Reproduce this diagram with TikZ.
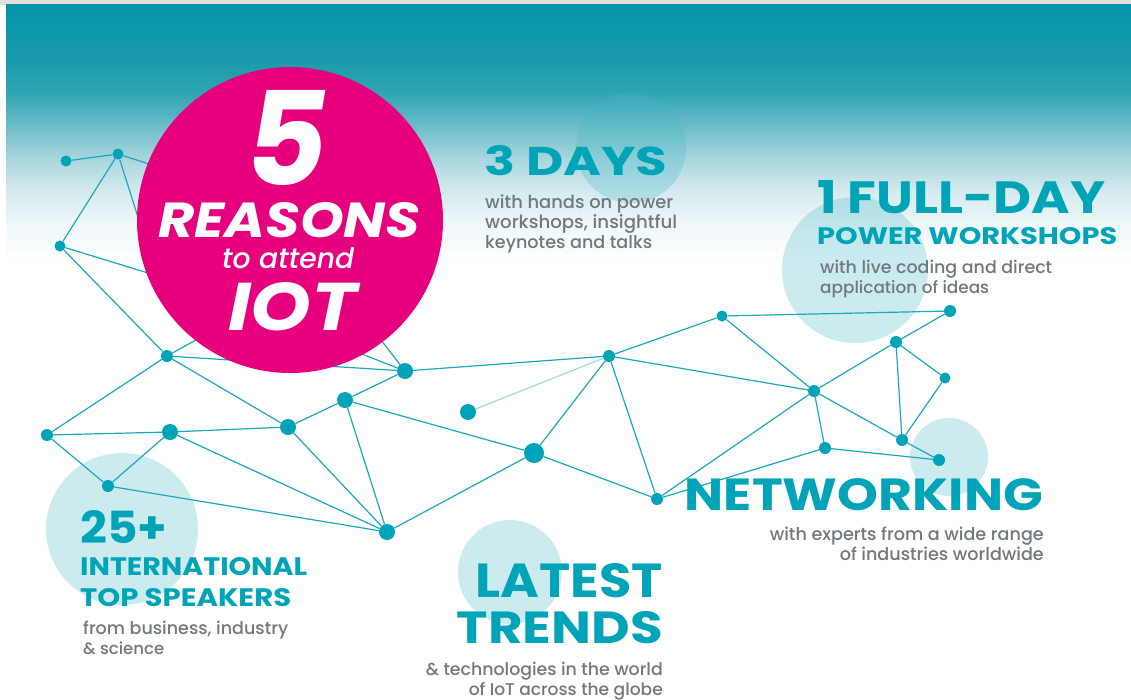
\documentclass[tikz,border=0pt]{standalone}
\usepackage{fontspec}
\usepackage{graphicx}
\setmainfont{Poppins}
\newfontfamily\popmed{Poppins Medium}
\definecolor{tealtxt}{RGB}{0,164,185}
\definecolor{graytxt}{RGB}{112,121,125}
\definecolor{edgecol}{RGB}{28,168,187}
\definecolor{dotcol}{RGB}{0,163,184}
\definecolor{pinkc}{RGB}{230,0,126}
\definecolor{s0}{RGB}{6,148,169}
\definecolor{s1}{RGB}{25,155,172}
\definecolor{s2}{RGB}{50,166,181}
\definecolor{s3}{RGB}{110,190,200}
\definecolor{s4}{RGB}{170,215,222}
\definecolor{s5}{RGB}{215,235,238}
\definecolor{s6}{RGB}{240,248,250}
\definecolor{lightc}{RGB}{70,185,200}
\newcommand\fitwh[3]{\resizebox{#1pt}{#2pt}{#3}}
\newcommand\fitw[2]{\resizebox{#1pt}{!}{#2}}
\begin{document}
\begin{tikzpicture}[x=1pt,y=-1pt,
  dot/.style={circle,fill=dotcol,inner sep=0pt,minimum size=#1},
  dot/.default=12pt,
  edge/.style={draw=edgecol,line width=1.2pt},
  faint/.style={draw=edgecol!45,line width=1.1pt},
  lightcirc/.style={circle,fill=lightc,fill opacity=0.28,inner sep=0pt,minimum size=#1},
  head/.style={inner sep=0pt,text=tealtxt,font=\bfseries},
  body/.style={inner sep=0pt,text=graytxt,font=\popmed},
  badgetxt/.style={inner sep=0pt,text=white}]
\useasboundingbox (0,0) rectangle (1131,699);
\fill[white] (0,0) rectangle (1131,699);
\fill[black!12] (0,0) rectangle (1131,5);
% gradient sky
\foreach \ta/\tb/\ya/\yb in {s0/s1/5/60,s1/s2/60/95,s2/s3/95/127,s3/s4/127/160,
  s4/s5/160/193,s5/s6/193/227,s6/white/227/262}
  \shade[top color=\ta,bottom color=\tb] (6,\ya-0.3) rectangle (1131,\yb+0.3);
% light circles
\node[lightcirc=110pt] (c3) at (631,148) {};
\node[lightcirc=146pt] (c1) at (855,270) {};
\node[lightcirc=78pt] (cn) at (949,457) {};
\node[lightcirc=152pt] (c25) at (122,529) {};
\node[lightcirc=104pt] (cl) at (510,572) {};
% network nodes
\node[dot=11pt] (A1) at (66,161) {};
\node[dot=11pt] (A2) at (118,154) {};
\node[dot=11pt] (A3) at (60,246) {};
\node[dot=12pt] (A4) at (167,356) {};
\node[dot=16pt] (A5) at (405,371) {};
\node[dot=16pt] (A6) at (345,400) {};
\node[dot=16pt] (A7) at (288,427) {};
\node[dot=16pt] (A8) at (170,432) {};
\node[dot=12pt] (A9) at (47,435) {};
\node[dot=12pt] (A10) at (108,486) {};
\node[dot=16pt] (A11) at (387,532) {};
\node[dot=16pt] (A12) at (468,412) {};
\node[dot=20pt] (A13) at (534,453) {};
\node[dot=12pt] (B1) at (609,356) {};
\node[dot=11pt] (B2) at (722,316) {};
\node[dot=12pt] (B3) at (950,311) {};
\node[dot=12pt] (B4) at (896,342) {};
\node[dot=11pt] (B5) at (945,378) {};
\node[dot=12pt] (B6) at (814,391) {};
\node[dot=12pt] (B7) at (902,440) {};
\node[dot=12pt] (B8) at (825,448) {};
\node[dot=12pt] (B9) at (939,460) {};
\node[dot=12pt] (B10) at (657,499) {};
\coordinate (H1) at (150,255);
\coordinate (H2) at (210,292);
\coordinate (H3) at (250,310);
\coordinate (H4) at (350,300);
\coordinate (H5) at (230,190);
% edges
\foreach \a/\b in {A1/A2,A2/H1,A2/H5,A3/A2,A3/H2,A3/A4,A4/H3,A4/A5,A4/A9,A4/A7,
  A5/H4,A5/H3,A5/A6,A5/B1,A6/A7,A6/A11,A6/A13,A7/A8,A7/A11,A8/A9,A8/A10,A8/A11,
  A9/A10,A10/A11,A11/A13,A13/B1,A13/B10,B1/B2,B1/B10,B1/B6,B2/B3,B2/B6,B6/B4,
  B4/B3,B4/B5,B4/B7,B5/B7,B6/B7,B6/B8,B7/B9,B8/B9,B10/B8,B10/B6}
  \draw[edge] (\a) -- (\b);
\draw[faint] (A12) -- (B1);
% pink badge
\node[circle,fill=pinkc,inner sep=0pt,minimum size=306pt] (badge) at (290,220) {};
\node[badgetxt,anchor=base west] (five) at (245,185) {\fitwh{82}{95}{\bfseries\itshape 5}};
\node[badgetxt,anchor=base west] (reasons) at (158,237) {\fitwh{262}{35}{\bfseries\itshape REASONS}};
\node[badgetxt,anchor=base west] (attend) at (222,268) {\fitw{132}{\popmed\itshape to attend}};
\node[badgetxt,anchor=base west] (iot) at (228,330) {\fitwh{129}{48}{\bfseries\itshape IOT}};
% 3 days
\node[head,anchor=base west] (days) at (484,175) {\fitwh{183}{30}{3 DAYS}};
\node[body,anchor=base west] (d1) at (485,208) {\fitw{188}{with hands on power}};
\node[body,anchor=base west] (d2) at (485,228) {\fitw{192}{workshops, insightful}};
\node[body,anchor=base west] (d3) at (485,248) {\fitw{167}{keynotes and talks}};
% full day
\node[head,anchor=base west] (fd) at (817,213) {\fitwh{288}{33}{1 FULL-DAY}};
\node[head,anchor=base west] (pw) at (817,244) {\fitwh{300}{17}{POWER WORKSHOPS}};
\node[body,anchor=base west] (f1) at (820,273) {\fitw{232}{with live coding and direct}};
\node[body,anchor=base west] (f2) at (820,293) {\fitw{169}{application of ideas}};
% networking
\node[head,anchor=base east] (nw) at (1043,510) {\fitwh{358}{32}{NETWORKING}};
\node[body,anchor=base east] (n1) at (1044,540) {\fitw{274}{with experts from a wide range}};
\node[body,anchor=base east] (n2) at (1044,560) {\fitw{204}{of industries worldwide}};
% speakers
\node[head,anchor=base west] (tf) at (80,543) {\fitwh{87}{33}{25+}};
\node[head,anchor=base west] (intl) at (80,575) {\fitwh{227}{18}{INTERNATIONAL}};
\node[head,anchor=base west] (top) at (80,606) {\fitwh{211}{18}{TOP SPEAKERS}};
\node[body,anchor=base west] (s1) at (83,634) {\fitw{205}{from business, industry}};
\node[body,anchor=base west] (s2) at (83,654) {\fitw{81}{\& science}};
% trends
\node[head,anchor=base east] (lt) at (663,597) {\fitwh{187}{34}{LATEST}};
\node[head,anchor=base east] (tr) at (663,643) {\fitwh{206}{32}{TRENDS}};
\node[body,anchor=base east] (t1) at (663,675) {\fitw{237}{\& technologies in the world}};
\node[body,anchor=base east] (t2) at (663,695) {\fitw{194}{of IoT across the globe}};
\end{tikzpicture}
\end{document}
